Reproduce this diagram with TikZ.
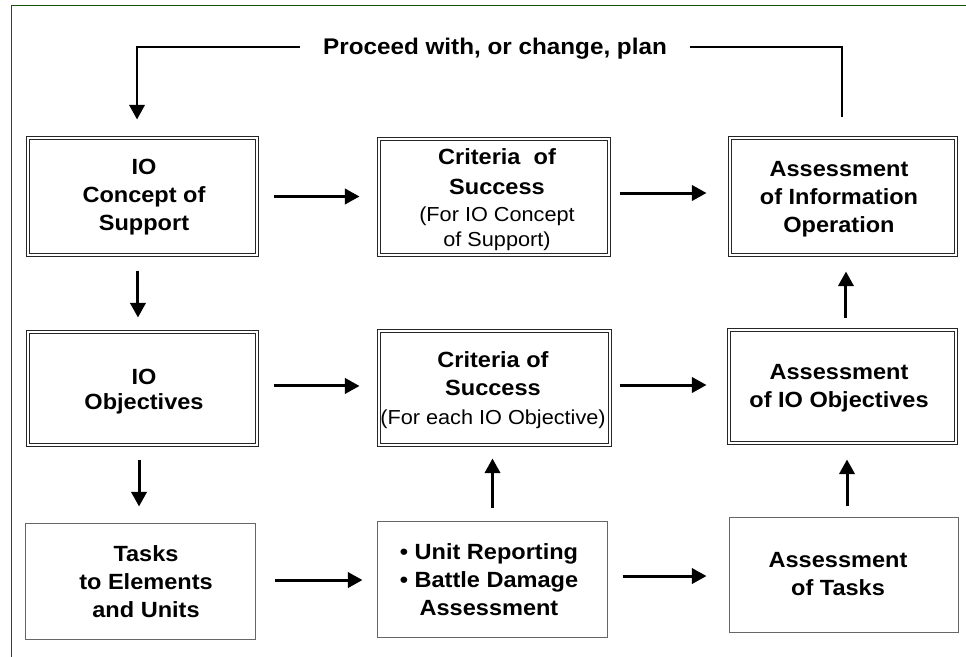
\documentclass[tikz,border=0pt]{standalone}
\usepackage{fontspec}
\setmainfont{Liberation Sans}[FakeStretch=1.07]
\usetikzlibrary{arrows.meta}
\definecolor{framegreen}{RGB}{24,84,12}
\tikzset{
  dbox/.style={draw=black!85, double=white, line width=0.75pt, double distance=1.2pt, inner sep=0pt},
  sbox/.style={draw=black!60, line width=0.75pt, inner sep=0pt},
  txt/.style={align=center, inner sep=0pt, font=\fontsize{16.5}{21}\selectfont\bfseries},
  arr/.style={line width=2.25pt, -{Triangle[length=11pt,width=11.5pt]}},
  fb/.style={line width=2pt},
  fbarr/.style={line width=2pt, -{Triangle[length=11pt,width=11.5pt]}}
}
\newcommand{\regtxt}{\mdseries\fontsize{15.2}{19}\selectfont}
\begin{document}
\begin{tikzpicture}[x=0.75pt,y=-0.75pt]
\useasboundingbox (0,0) rectangle (966,656);
\begin{scope}
\clip (0,0) rectangle (966,656);
\draw[framegreen, line width=1.4pt] (11.5,5.5) rectangle (980,670);
\end{scope}

% boxes
\node[dbox, minimum width=172.05pt, minimum height=88.05pt] (b1) at (142.5,196.5) {};
\node[dbox, minimum width=172.8pt,  minimum height=87.3pt]  (b2) at (494,197) {};
\node[dbox, minimum width=169.8pt,  minimum height=88.05pt] (b3) at (843,196.5) {};
\node[dbox, minimum width=172.05pt, minimum height=85.05pt] (b4) at (142.5,388.5) {};
\node[dbox, minimum width=173.55pt, minimum height=85.8pt]  (b5) at (494.5,388) {};
\node[dbox, minimum width=170.55pt, minimum height=85.05pt] (b6) at (842.5,386.5) {};
\node[sbox, minimum width=172.5pt,  minimum height=87pt]    (b7) at (140.5,581.5) {};
\node[sbox, minimum width=172.5pt,  minimum height=87pt]    (b8) at (492.5,579.5) {};
\node[sbox, minimum width=171.75pt, minimum height=86.25pt] (b9) at (844,575) {};

% texts
\node[txt, font=\fontsize{17}{21}\selectfont\bfseries, inner xsep=17.25pt] (hdr) at (495,49) {Proceed with, or change, plan};
\node[txt] (t1) at (144,197) {IO\\Concept of\\Support};
\node[txt] (t2) at (497,199.5) {Criteria\ \ of\\[1.5pt]Success\\[-1.1pt]{\regtxt (For IO Concept}\\[-2.25pt]{\regtxt of Support)}};
\node[txt] (t3) at (839,199) {Assessment\\of Information\\Operation};
\node[txt] (t4) at (144,391.5) {IO\\[-2.25pt]Objectives};
\node[txt] (t5) at (493,390) {Criteria of\\Success\\[0.75pt]{\regtxt (For each IO Objective)}};
\node[txt] (t6) at (839,388.5) {Assessment\\of IO Objectives};
\node[txt] (t7) at (146,582) {Tasks\\to Elements\\and Units};
\node[txt] (t8) at (489,580) {• Unit Reporting\\• Battle Damage\\Assessment};
\node[txt] (t9) at (838,574) {Assessment\\of Tasks};

% horizontal arrows
\draw[arr, shorten <=11.85pt, shorten >=14.1pt] (b1.east) -- (b1.east -| b2.west);
\draw[arr, shorten <=7.35pt, shorten >=17.1pt] ([yshift=3pt]b2.east) -- ([yshift=3pt]b2.east -| b3.west);
\draw[arr, shorten <=11.85pt, shorten >=14.1pt] ([yshift=1.9pt]b4.east) -- ([yshift=1.9pt]b4.east -| b5.west);
\draw[arr, shorten <=6.6pt, shorten >=16.35pt] ([yshift=2.25pt]b5.east) -- ([yshift=2.25pt]b5.east -| b6.west);
\draw[arr, shorten <=13.9pt, shorten >=10.9pt] ([yshift=1.1pt]b7.east) -- ([yshift=1.1pt]b7.east -| b8.west);
\draw[arr, shorten <=10.9pt, shorten >=16.9pt] ([yshift=2.6pt]b8.east) -- ([yshift=2.6pt]b8.east -| b9.west);

% vertical arrows
\draw[arr, shorten <=11.1pt, shorten >=10.35pt] ([xshift=-3.4pt]b1.south) -- ([xshift=-3.4pt]b1.south |- b4.north);
\draw[arr, shorten <=10.35pt, shorten >=12.4pt] ([xshift=-2.6pt]b4.south) -- ([xshift=-2.6pt]b4.south |- b7.north);
\draw[arr, shorten <=10.1pt, shorten >=9.6pt] (b8.north) -- (b8.north |- b5.south);
\draw[arr, shorten <=7.9pt, shorten >=11.85pt] ([xshift=2.25pt]b9.north) -- ([xshift=2.25pt]b9.north |- b6.south);
\draw[arr, shorten <=8.85pt, shorten >=11.85pt] ([xshift=2.6pt]b6.north) -- ([xshift=2.6pt]b6.north |- b3.south);

% feedback loop
\draw[fb] ([xshift=-0.75pt,yshift=14.85pt]b3.north) |- ([yshift=1.5pt]hdr.east);
\draw[fbarr] ([yshift=1.5pt]hdr.west) -| ([xshift=-4.1pt,yshift=13.35pt]b1.north);
\end{tikzpicture}
\end{document}
